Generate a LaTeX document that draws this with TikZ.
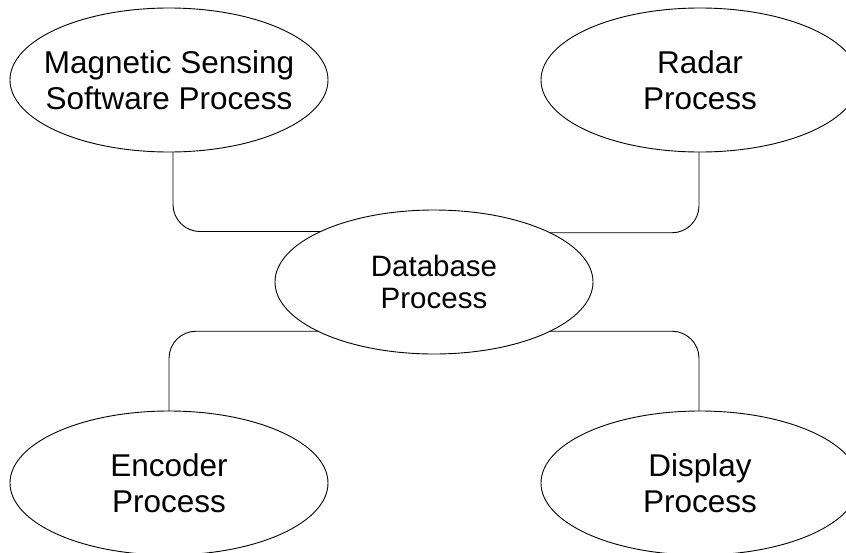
\documentclass[tikz,border=0pt]{standalone}
\usepackage{fontspec}
\setmainfont{Liberation Sans}
\usetikzlibrary{shapes.geometric}
\newcommand{\zw}[1]{\makebox[0pt]{#1}}
\begin{document}
\begin{tikzpicture}[x=1pt,y=-1pt,
  proc/.style={ellipse,draw,line width=0.9pt,minimum width=318pt,minimum height=144pt,inner sep=0pt,outer sep=0pt,align=center,font=\fontsize{31.5}{36}\selectfont},
  link/.style={draw,line width=0.9pt,rounded corners=27pt}]
\useasboundingbox (0,0) rectangle (846,552);
\node[proc] (ms) at (169,80) {\zw{Magnetic Sensing}\\\zw{Software Process}};
\node[proc] (rd) at (700,80) {\zw{Radar}\\\zw{Process}};
\node[proc,font=\fontsize{29.5}{32.5}\selectfont] (db) at (434,282) {\zw{Database}\\\zw{Process}};
\node[proc] (en) at (169,483) {\zw{Encoder}\\\zw{Process}};
\node[proc] (dp) at (700,483) {\zw{Display}\\\zw{Process}};
\path[link] ([xshift=4pt]ms.south) |- (db.156.3);
\path[link] ([xshift=-1pt]rd.south) |- (db.23.7);
\path[link] (db.203.7) -| (en.north);
\path[link] (db.-23.7) -| ([xshift=-1pt]dp.north);
\end{tikzpicture}
\end{document}
